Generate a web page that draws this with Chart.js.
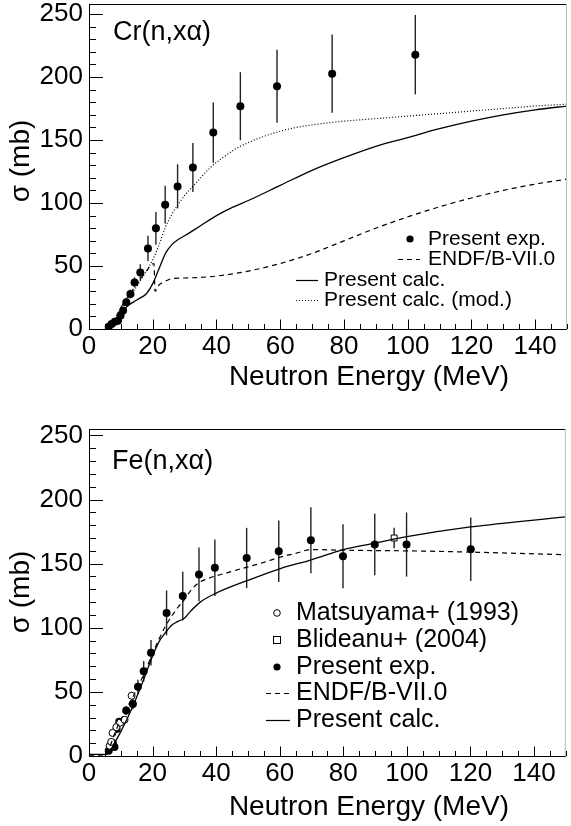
<!DOCTYPE html>
<html>
<head>
<meta charset="utf-8">
<script src="https://cdn.jsdelivr.net/npm/chart.js@4.4.1/dist/chart.umd.min.js"></script>
<style>
  html, body { margin: 0; padding: 0; background: #fff; }
  #wrap { position: relative; width: 571px; height: 826px; overflow: hidden; }
  .panel { position: absolute; left: 0; width: 571px; height: 413px; }
</style>
</head>
<body>
<div id="wrap">
  <div class="panel" style="top:0"><canvas id="cr" width="571" height="413"></canvas></div>
  <div class="panel" style="top:413px"><canvas id="fe" width="571" height="413"></canvas></div>
</div>
<script>
// tick labels
const energyTicks = [0, 20, 40, 60, 80, 100, 120, 140];
const sigmaTicks = [0, 50, 100, 150, 200, 250];

// Cr(n,xa) - present experiment
const crExpE = [6.2, 7.1, 8.1, 9.1, 9.9, 10.7, 11.7, 13.0, 14.3, 16.1, 18.5, 21.0, 23.9, 27.8, 32.6, 39.0, 47.5, 59.0, 76.3, 102.4];
const crExpSigma = [1.8, 3.9, 5.7, 6.5, 10.8, 14.7, 21.3, 27.8, 37.0, 44.9, 64.0, 79.9, 98.7, 113.2, 128.2, 155.9, 176.9, 192.7, 202.7, 217.8];
const crExpErr = [1, 1, 1.5, 1.5, 2, 2.5, 3, 3.5, 4, 6.5, 10, 13, 15, 17.5, 19.5, 24, 27, 29, 31, 31.5];
// Cr ENDF/B-VII.0
const crEndfE = [5, 6, 8, 10, 12, 14, 16, 18, 20.4, 20.7, 22, 24, 26, 30, 35, 40, 50, 60, 70, 80, 90, 100, 110, 120, 130, 140, 150];
const crEndfSigma = [0, 1, 7, 17, 25, 32, 39, 46, 52, 30, 35, 38, 40, 40.5, 41, 42, 46, 52, 60, 70, 80, 89, 97, 104, 110, 115, 119];
// Cr present calc.
const crCalcE = [6, 8, 10, 12, 14, 16, 18, 20, 22, 24, 26, 28, 30, 35, 40, 45, 50, 60, 70, 80, 90, 100, 110, 120, 130, 140, 150];
const crCalcSigma = [0.5, 6, 12, 18, 21.5, 24.5, 28, 36, 48, 60, 67, 71, 74, 82, 90, 96.5, 102, 114, 126, 136, 145, 152, 159, 165, 170, 174, 177];
// Cr present calc. (mod.)
const crModE = [6, 8, 10, 12, 14, 16, 18, 20, 22, 24, 26, 28, 30, 34, 38, 42, 46, 50, 55, 60, 65, 70, 80, 90, 100, 110, 120, 130, 140, 150];
const crModSigma = [1, 7, 15, 23, 30, 38, 46, 55, 67, 81, 91, 99, 106, 117, 128, 136, 143, 148, 153, 157, 160, 162, 165, 167, 169, 171, 173, 175, 177, 178.5];

// Fe(n,xa) - present experiment
const feExpE = [6.2, 6.8, 7.5, 8.0, 8.7, 9.5, 11.7, 13.8, 15.4, 17.2, 19.5, 24.4, 29.5, 34.6, 39.6, 49.6, 59.7, 69.8, 79.9, 89.9, 99.9, 120.1];
const feExpSigma = [4, 8, 10, 7, 21, 26.7, 35.5, 40.5, 54, 66, 80.5, 111.6, 124.7, 141.6, 146.8, 154.4, 159.7, 168.2, 155.8, 164.9, 164.9, 161.2];
const feExpErr = [1, 1.5, 2, 2, 2.5, 3, 3.5, 4, 5.5, 8, 10, 17.5, 19, 21, 22, 23.5, 24, 25.7, 25, 24, 25, 24.7];
// Matsuyama+ (1993)
const matsE = [6.5, 7.0, 7.4, 8.6, 9.8, 11.2, 13.4];
const matsSigma = [8, 11, 18, 22.5, 26, 28.3, 47];
const matsErr = [1.5, 1.5, 2, 2, 2, 2.5, 3];
// Blideanu+ (2004)
const bliE = [96];
const bliSigma = [170];
const bliErr = [8];
// Fe ENDF/B-VII.0
const feEndfE = [0, 5, 6, 7, 8, 9, 10, 12, 14, 16, 18, 20, 22, 24, 26, 28, 30, 32, 34.5, 37, 40, 45, 50, 55, 60, 65, 70, 80, 90, 100, 120, 150];
const feEndfSigma = [0.6, 0.6, 4, 10, 17, 23, 28, 38, 47, 57, 68, 80, 91, 101, 109, 116, 122, 129, 135, 138, 140.5, 144, 147.5, 151, 155, 158, 161, 160.5, 160.2, 160, 159, 157];
// Fe present calc.
const feCalcE = [0, 5, 6, 8, 10, 12, 14, 16, 18, 20, 22, 24, 26, 28, 30, 32, 35, 40, 50, 60, 70, 80, 90, 100, 120, 150];
const feCalcSigma = [1.2, 1.2, 2, 10, 19, 29, 40, 52, 65, 78, 89, 96, 102, 105, 107.5, 113, 120, 127, 137, 146, 153, 161, 166, 171, 178.6, 186.5];

const FONT = '"Liberation Sans", Arial, Helvetica, sans-serif';

function pairs(xs, ys) {
  return xs.map((x, i) => ({ x, y: ys[i] }));
}

function curve(xs, ys, dash, width) {
  return {
    type: "line",
    data: pairs(xs, ys),
    borderColor: "#000",
    borderWidth: width ?? 1.3,
    borderDash: dash ?? [],
    pointRadius: 0,
    fill: false,
    cubicInterpolationMode: "monotone",
  };
}

function markers(xs, ys, errs, style) {
  return {
    type: "scatter",
    data: pairs(xs, ys),
    errors: errs,
    pointStyle: style.shape,
    pointRadius: style.radius,
    pointHoverRadius: style.radius,
    backgroundColor: style.fill,
    borderColor: "#000",
    borderWidth: style.border,
  };
}

const dotStyle = { shape: "circle", radius: 4, fill: "#000", border: 0 };
const openStyle = { shape: "circle", radius: 3.5, fill: "#fff", border: 1 };
const squareStyle = { shape: "rect", radius: 4.2, fill: "#fff", border: 1 };

// ROOT-like frame, inner ticks, titles, legend and error bars
const rootFrame = {
  id: "rootFrame",
  beforeDatasetsDraw(chart) {
    const { ctx, scales } = chart;
    ctx.save();
    ctx.strokeStyle = "#222";
    ctx.lineWidth = 1.4;
    chart.data.datasets.forEach((ds) => {
      if (!ds.errors) return;
      ds.data.forEach((p, i) => {
        const x = scales.x.getPixelForValue(p.x);
        const y1 = scales.y.getPixelForValue(p.y - ds.errors[i]);
        const y2 = scales.y.getPixelForValue(p.y + ds.errors[i]);
        ctx.beginPath();
        ctx.moveTo(x, y1);
        ctx.lineTo(x, y2);
        ctx.stroke();
      });
    });
    ctx.restore();
  },
  afterDraw(chart, args, opts) {
    const { ctx, chartArea: a, scales } = chart;
    ctx.save();
    // frame
    ctx.lineWidth = 1;
    ctx.strokeStyle = "#000";
    ctx.beginPath();
    ctx.moveTo(a.left + 0.5, a.top + 0.5);
    ctx.lineTo(a.right, a.top + 0.5);
    ctx.moveTo(a.left + 0.5, a.top);
    ctx.lineTo(a.left + 0.5, a.bottom + 0.5);
    ctx.lineTo(a.right, a.bottom + 0.5);
    ctx.stroke();
    ctx.strokeStyle = "#bbb";
    ctx.beginPath();
    ctx.moveTo(a.right - 0.5, a.top);
    ctx.lineTo(a.right - 0.5, a.bottom);
    ctx.stroke();
    // inner ticks
    ctx.strokeStyle = "#000";
    ctx.beginPath();
    for (let v = 0; v <= scales.y.max; v += 10) {
      const y = Math.round(scales.y.getPixelForValue(v)) + 0.5;
      const len = v % 50 === 0 ? 14 : 7;
      ctx.moveTo(a.left, y);
      ctx.lineTo(a.left + len, y);
    }
    for (let v = 0; v <= scales.x.max; v += 5) {
      const x = Math.round(scales.x.getPixelForValue(v)) + 0.5;
      const len = v % 20 === 0 ? 9.5 : 5;
      ctx.moveTo(x, a.bottom);
      ctx.lineTo(x, a.bottom - len);
    }
    ctx.stroke();
    // texts
    ctx.fillStyle = "#000";
    ctx.textBaseline = "middle";
    ctx.font = `28px ${FONT}`;
    ctx.textAlign = "right";
    ctx.fillText("Neutron Energy (MeV)", 509, opts.xTitleY);
    ctx.save();
    ctx.translate(21, opts.yTitleY);
    ctx.rotate(-Math.PI / 2);
    ctx.textAlign = "center";
    ctx.fillText("σ (mb)", 0, 0);
    ctx.restore();
    ctx.textAlign = "left";
    ctx.font = `27px ${FONT}`;
    ctx.fillText(opts.label, opts.labelX, opts.labelY);
    // legend
    ctx.font = `${opts.legendSize}px ${FONT}`;
    opts.legend.forEach((e) => {
      ctx.fillStyle = "#000";
      ctx.strokeStyle = "#000";
      ctx.lineWidth = 1.2;
      ctx.setLineDash([]);
      if (e.kind === "dot" || e.kind === "open") {
        ctx.beginPath();
        ctx.arc(e.sx, e.y, e.kind === "dot" ? 3.6 : 3.3, 0, Math.PI * 2);
        if (e.kind === "dot") ctx.fill();
        else { ctx.fillStyle = "#fff"; ctx.fill(); ctx.lineWidth = 1; ctx.stroke(); }
      } else if (e.kind === "square") {
        ctx.fillStyle = "#fff";
        ctx.fillRect(e.sx - 4, e.y - 4, 8, 8);
        ctx.lineWidth = 1;
        ctx.strokeRect(e.sx - 3.5, e.y - 3.5, 7, 7);
      } else {
        if (e.kind === "dash") ctx.setLineDash([5, 4]);
        if (e.kind === "dotted") ctx.setLineDash([1, 2]);
        ctx.beginPath();
        ctx.moveTo(e.sx, e.y + 0.5);
        ctx.lineTo(e.ex, e.y + 0.5);
        ctx.stroke();
      }
      ctx.setLineDash([]);
      ctx.fillStyle = "#000";
      ctx.fillText(e.text, e.tx, e.y);
    });
    ctx.restore();
  },
};

// no label overhang padding: the frame must sit at fixed pixels
function noOverhang(s) {
  s.paddingTop = 0;
  s.paddingBottom = 0;
  s.paddingLeft = 0;
  s.paddingRight = 0;
}

function axes(yMax, xAxisHeight) {
  return {
    x: {
      type: "linear",
      min: 0,
      max: 150,
      afterBuildTicks: (s) => { s.ticks = energyTicks.map((v) => ({ value: v })); },
      afterFit: (s) => { s.height = xAxisHeight; noOverhang(s); },
      grid: { display: false, drawTicks: false, tickLength: 0 },
      border: { display: false },
      ticks: { color: "#000", font: { family: FONT, size: 26 }, padding: 2, maxRotation: 0, autoSkip: false },
    },
    y: {
      type: "linear",
      min: 0,
      max: yMax,
      afterBuildTicks: (s) => { s.ticks = sigmaTicks.map((v) => ({ value: v })); },
      afterFit: (s) => { s.width = 89; noOverhang(s); },
      grid: { display: false, drawTicks: false, tickLength: 0 },
      border: { display: false },
      ticks: { color: "#000", font: { family: FONT, size: 26 }, padding: 6, autoSkip: false },
    },
  };
}

function makeChart(id, datasets, yMax, padTop, xAxisHeight, frameOpts) {
  return new Chart(document.getElementById(id), {
    data: { datasets },
    options: {
      responsive: false,
      animation: false,
      devicePixelRatio: 1,
      events: [],
      layout: { padding: { top: padTop, left: 0, right: 0, bottom: 0 } },
      scales: axes(yMax, xAxisHeight),
      plugins: { legend: { display: false }, tooltip: { enabled: false }, rootFrame: frameOpts },
    },
    plugins: [rootFrame],
  });
}

makeChart("cr", [
  curve(crEndfE, crEndfSigma, [5, 4], 1.2),
  curve(crCalcE, crCalcSigma, [], 1.3),
  curve(crModE, crModSigma, [1, 2], 1.2),
  markers(crExpE, crExpSigma, crExpErr, dotStyle),
], 258, 2, 84, {
  label: "Cr(n,xα)", labelX: 113, labelY: 33,
  xTitleY: 377, yTitleY: 161, legendSize: 21,
  legend: [
    { kind: "dot", sx: 410, y: 239, tx: 428, text: "Present exp." },
    { kind: "dash", sx: 398, ex: 420, y: 259, tx: 428, text: "ENDF/B-VII.0" },
    { kind: "solid", sx: 296, ex: 318, y: 280, tx: 324, text: "Present calc." },
    { kind: "dotted", sx: 296, ex: 318, y: 300, tx: 324, text: "Present calc. (mod.)" },
  ],
});

makeChart("fe", [
  curve(feEndfE, feEndfSigma, [5, 4], 1.2),
  curve(feCalcE, feCalcSigma, [], 1.3),
  markers(matsE, matsSigma, matsErr, openStyle),
  markers(bliE, bliSigma, bliErr, squareStyle),
  markers(feExpE, feExpSigma, feExpErr, dotStyle),
], 255, 16, 70, {
  label: "Fe(n,xα)", labelX: 112, labelY: 49,
  xTitleY: 394, yTitleY: 179, legendSize: 25,
  legend: [
    { kind: "open", sx: 277, y: 200, tx: 296, text: "Matsuyama+ (1993)" },
    { kind: "square", sx: 277, y: 227, tx: 296, text: "Blideanu+ (2004)" },
    { kind: "dot", sx: 277, y: 254, tx: 296, text: "Present exp." },
    { kind: "dash", sx: 266, ex: 290, y: 280, tx: 296, text: "ENDF/B-VII.0" },
    { kind: "solid", sx: 266, ex: 290, y: 307, tx: 296, text: "Present calc." },
  ],
});
</script>
</body>
</html>
